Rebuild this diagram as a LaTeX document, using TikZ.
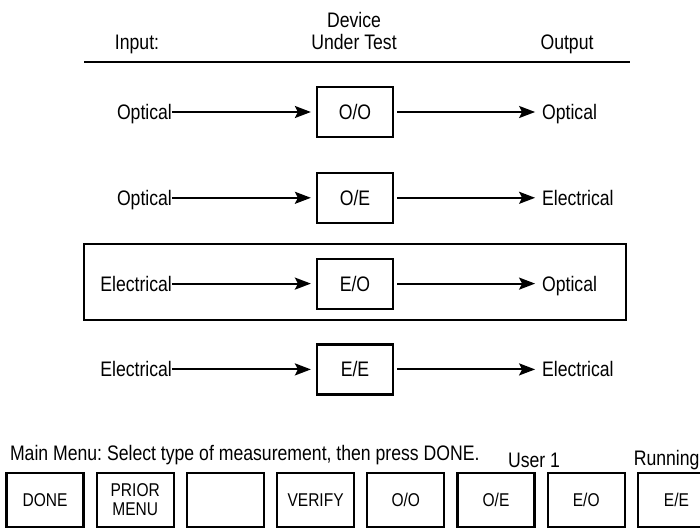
\documentclass[tikz,border=0pt]{standalone}
\usepackage{fontspec}
\usepackage{tikz}
\usetikzlibrary{positioning,arrows.meta}
\newfontfamily\panelfont{Liberation Sans}[FakeStretch=0.84]
\newcommand{\lbltext}{\panelfont\fontsize{21}{24}\selectfont\frenchspacing}
\newcommand{\keytext}{\panelfont\fontsize{18.5}{20}\selectfont}
\tikzset{
  dut/.style={rectangle, draw, line width=2.2pt, minimum width=76pt,
              minimum height=50pt, inner sep=0pt, font=\lbltext},
  sig/.style={inner sep=0pt, outer sep=0pt, text height=15pt, text depth=0pt, font=\lbltext},
  caption/.style={inner sep=0pt, align=center, font=\lbltext},
  softkey/.style={rectangle, draw, line width=2.2pt, minimum width=77pt,
                  minimum height=54pt, inner sep=0pt, align=center, font=\keytext},
  flow/.style={-{Stealth[length=16pt, width=12pt, inset=3pt]}, line width=2pt},
  rule/.style={line width=2.2pt}
}

\begin{document}
\begin{tikzpicture}[x=1pt, y=-1pt]
\useasboundingbox (0,0) rectangle (700,530);
% column headings
\node[caption, anchor=base] (inhead) at (137,49) {Input:};
\node[caption, anchor=base] (duthead) at (354,27) {Device};
\node[caption, anchor=base] (duthead2) at (354,49) {Under Test};
\node[caption, anchor=base] (outhead) at (567,49) {Output};
\draw[rule] (84,62) -- (630,62);

% devices under test
\node[dut] (oo) at (355,112) {O/O};
\node[dut, below=33.6pt of oo] (oe) {O/E};
\node[dut, below=33.6pt of oe] (eo) {E/O};
\node[dut, below=33.6pt of eo] (ee) {E/E};

\node[sig, left=144pt of oo] (ooin) {Optical};
\node[sig, right=148pt of oo] (ooout) {Optical};
\node[sig, left=144pt of oe] (oein) {Optical};
\node[sig, right=148pt of oe] (oeout) {Electrical};
\node[sig, left=144pt of eo] (eoin) {Electrical};
\node[sig, right=148pt of eo] (eoout) {Optical};
\node[sig, left=144pt of ee] (eein) {Electrical};
\node[sig, right=148pt of ee] (eeout) {Electrical};

\draw[flow, shorten >=5pt] (ooin) -- (oo);
\draw[flow, shorten <=3pt, shorten >=7pt] (oo) -- (ooout);
\draw[flow, shorten >=5pt] (oein) -- (oe);
\draw[flow, shorten <=3pt, shorten >=7pt] (oe) -- (oeout);
\draw[flow, shorten >=5pt] (eoin) -- (eo);
\draw[flow, shorten <=3pt, shorten >=7pt] (eo) -- (eoout);
\draw[flow, shorten >=5pt] (eein) -- (ee);
\draw[flow, shorten <=3pt, shorten >=7pt] (ee) -- (eeout);

% selected row
\draw[rule] (84,244) rectangle (626,320);

% menu line and soft keys
\node[sig, anchor=base west] (prompt) at (10,460) {Main Menu: Select type of measurement, then press DONE.};
\node[softkey] (done) at (45,500) {DONE};
\node[softkey, right=11pt of done] (prior) {PRIOR\\[-1pt]MENU};
\node[softkey, right=11pt of prior] (blank) {};
\node[softkey, right=11pt of blank] (verify) {VERIFY};
\node[softkey, right=11pt of verify] (keyoo) {O/O};
\node[softkey, right=11pt of keyoo] (keyoe) {O/E};
\node[softkey, right=11pt of keyoe] (keyeo) {E/O};
\node[softkey, right=11pt of keyeo] (keyee) {E/E};
\node[sig, anchor=base] (user) at (534,467) {User 1};
\node[sig, anchor=base east] (status) at (699.5,465) {Running};
\end{tikzpicture}
\end{document}
